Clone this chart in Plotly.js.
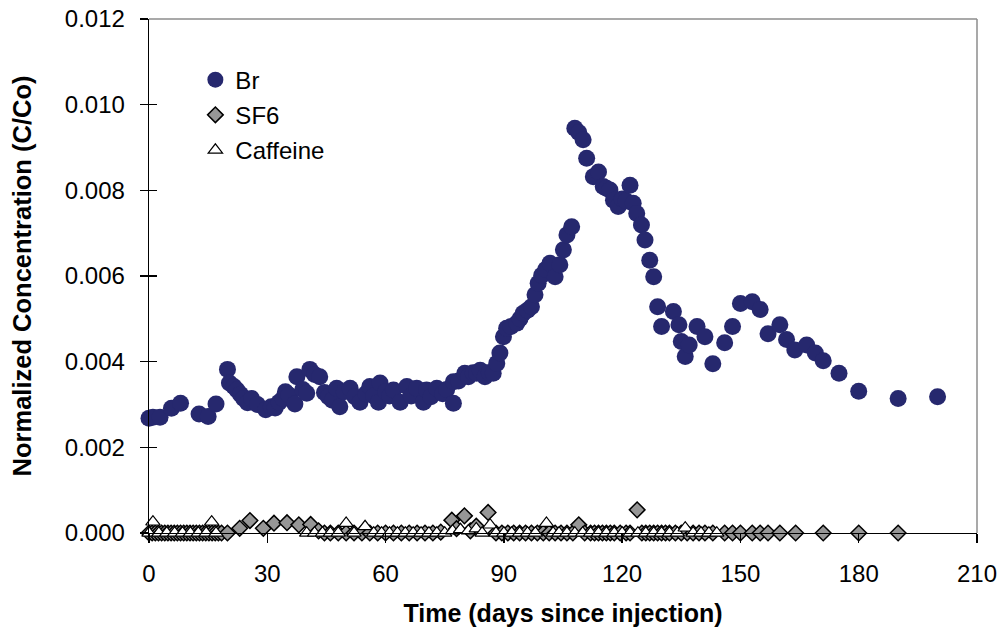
<!DOCTYPE html>
<html>
<head>
<meta charset="utf-8">
<script src="https://cdn.plot.ly/plotly-3.0.1.min.js"></script>
<style>html,body{margin:0;padding:0;background:#fff;}#chart{width:1003px;height:632px;}</style>
</head>
<body>
<div id="chart"></div>
<script>
// ---- Data ----
const brDays = [0.0,1.0,2.8,5.7,8.0,12.7,15.0,17.0,19.9,20.4,21.5,22.3,23.2,24.0,25.0,26.0,27.5,29.6,31.0,32.0,33.0,34.0,34.6,35.5,37.0,37.5,39.0,40.0,40.8,42.0,43.3,44.5,45.5,46.5,47.6,48.4,49.5,51.0,52.2,53.5,55.0,56.0,57.0,58.2,58.6,60.0,61.0,62.0,63.7,65.4,66.5,67.9,69.6,70.4,71.5,73.0,74.5,75.5,77.2,77.2,78.5,80.1,81.0,82.2,83.1,84.0,85.2,86.3,87.3,88.2,89.0,89.9,90.7,91.8,93.3,94.1,94.9,96.0,97.0,97.9,98.7,99.6,100.6,101.7,103.0,104.2,105.1,106.0,107.2,108.0,109.0,110.1,111.0,112.7,114.0,115.2,116.0,116.9,117.8,119.0,120.0,121.0,122.0,122.8,123.7,124.9,125.8,127.0,128.0,129.0,130.0,133.0,134.4,135.0,136.0,137.0,139.0,141.0,143.0,146.0,148.0,150.0,153.0,155.0,157.0,160.0,161.7,163.8,166.8,169.0,171.0,175.0,180.0,190.0,200.0];
const brValues = [0.00268,0.00270,0.00270,0.00291,0.00303,0.00278,0.00272,0.00301,0.00382,0.00350,0.00342,0.00334,0.00324,0.00314,0.00304,0.00314,0.00300,0.00288,0.00295,0.00292,0.00305,0.00314,0.00330,0.00322,0.00301,0.00365,0.00335,0.00326,0.00382,0.00370,0.00365,0.00328,0.00318,0.00310,0.00338,0.00295,0.00330,0.00338,0.00318,0.00305,0.00325,0.00342,0.00320,0.00305,0.00350,0.00330,0.00320,0.00334,0.00305,0.00342,0.00320,0.00338,0.00305,0.00334,0.00318,0.00338,0.00325,0.00335,0.00303,0.00353,0.00355,0.00373,0.00365,0.00374,0.00373,0.00380,0.00365,0.00375,0.00373,0.00396,0.00420,0.00458,0.00478,0.00482,0.00490,0.00500,0.00513,0.00520,0.00528,0.00556,0.00583,0.00602,0.00615,0.00630,0.00598,0.00626,0.00661,0.00696,0.00715,0.00945,0.00935,0.00918,0.00875,0.00832,0.00843,0.00809,0.00805,0.00801,0.00777,0.00762,0.00780,0.00775,0.00812,0.00770,0.00746,0.00719,0.00684,0.00637,0.00598,0.00528,0.00482,0.00517,0.00486,0.00447,0.00412,0.00439,0.00482,0.00458,0.00395,0.00444,0.00482,0.00536,0.00540,0.00522,0.00465,0.00486,0.00452,0.00427,0.00439,0.00420,0.00402,0.00373,0.00331,0.00314,0.00318];

const sf6Days = [0.0,0.8,1.6,2.4,3.2,4.0,4.8,5.6,6.4,7.2,8.0,8.8,9.6,10.4,11.2,12.0,12.8,13.6,14.4,15.2,16.0,16.8,17.6,18.4,19.9,23.0,25.6,29.0,31.7,35.0,38.0,41.0,43.0,44.5,46.0,48.0,50.0,52.0,54.0,56.0,58.0,60.0,62.0,64.0,66.0,68.0,70.0,72.0,74.0,76.8,78.0,80.0,81.5,83.0,86.0,88.0,89.5,91.0,92.5,94.0,95.5,97.0,98.5,100.0,101.5,103.0,104.5,106.0,107.5,109.0,110.5,112.0,113.0,114.0,115.0,116.0,117.0,118.0,119.5,121.0,122.0,123.8,125.0,126.0,127.0,128.0,129.0,130.0,131.0,132.0,133.5,135.0,136.5,138.0,139.5,141.0,143.0,146.0,148.0,150.0,153.0,155.0,157.0,160.0,164.0,171.0,180.0,190.0];
const sf6Values = [0,0,0,0,0,0,0,0,0,0,0,0,0,0,0,0,0,0,0,0,0,0,0,0,0,0.00011,0.00029,0.00011,0.00023,0.00024,0.00019,0.00020,0.00005,0,0,0,0,0,0,0,0,0,0,0,0,0,0,0,0.00002,0.00030,0.00010,0.00040,0.00005,0.00016,0.00048,0,0,0,0,0,0,0,0,0,0,0,0,0,0,0.00019,0,0,0,0,0,0,0,0,0,0,0,0.00054,0,0,0,0,0,0,0,0,0,0,0,0,0,0,0,0,0,0,0,0,0,0,0,0,0,0,0];

const cafDays = [0.0,1.0,2.5,4.5,6.5,8.5,10.5,12.5,14.5,15.9,17.0,40.0,42.0,44.0,46.0,48.0,50.0,52.0,54.8,57.0,59.0,61.0,63.0,65.0,67.0,69.0,71.0,73.0,75.0,77.0,79.0,81.0,83.0,84.5,86.5,88.0,90.0,92.0,94.0,96.0,98.0,100.8,102.5,104.0,106.0,108.0,110.0,112.0,114.0,116.0,118.0,120.0,122.0,124.0,126.0,128.0,130.0,132.0,134.0,136.0,138.0,140.0,142.0,144.0];
const cafValues = [0,0.00026,0,0,0,0,0,0,0,0.00026,0,0,0,0,0,0,0.00023,0,0.00015,0,0,0,0,0,0,0,0,0,0,0.00005,0.00008,0.00005,0.00010,0,0.00019,0,0,0,0,0,0,0.00023,0,0,0,0,0,0,0,0,0,0,0,0,0,0,0,0,0,0.00012,0,0,0,0];

const xTicks = [0,30,60,90,120,150,180,210];
const yTicks = [0,0.002,0.004,0.006,0.008,0.010,0.012];
const yTickLabels = ['0.000','0.002','0.004','0.006','0.008','0.010','0.012'];

const FONT = 'Liberation Sans, Arial, sans-serif';

const traces = [
  {x: brDays, y: brValues, name: 'Br', type: 'scatter', mode: 'markers', cliponaxis: false, legendgroup: 'a',
   marker: {symbol: 'circle', size: 17, color: '#26286e', line: {width: 0}}},
  {x: sf6Days, y: sf6Values, name: 'SF6', type: 'scatter', mode: 'markers', cliponaxis: false, legendgroup: 'b',
   marker: {symbol: 'diamond', size: 12, color: '#969696', line: {width: 1.5, color: '#000'}}},
  {x: cafDays, y: cafValues, name: 'Caffeine', type: 'scatter', mode: 'markers', cliponaxis: false, legendgroup: 'c',
   marker: {symbol: 'triangle-up', size: 12.5, color: '#ffffff', line: {width: 1.2, color: '#000'}}},
  // invisible helper on yaxis2 so that inner tick marks are drawn
  {x: [0], y: [0], yaxis: 'y2', type: 'scatter', mode: 'markers', showlegend: false, hoverinfo: 'skip',
   marker: {opacity: 0}}
];

const layout = {
  width: 1003, height: 632,
  margin: {l: 149, r: 26, t: 19, b: 99},
  paper_bgcolor: '#fff', plot_bgcolor: '#fff',
  font: {family: FONT, color: '#000', size: 24},
  showlegend: true,
  legend: {x: 0.056, y: 0.925, xanchor: 'left', yanchor: 'top', bgcolor: 'rgba(0,0,0,0)',
           font: {family: FONT, size: 24, color: '#000'}, tracegroupgap: 1, itemwidth: 30},
  xaxis: {range: [0, 210], tickmode: 'array', tickvals: xTicks, ticks: 'outside', ticklen: 9,
          tickcolor: '#000', tickwidth: 1.3, showline: true, linecolor: '#000', linewidth: 1.3,
          showgrid: false, zeroline: false, ticklabelstandoff: 10,
          tickfont: {family: FONT, size: 24, color: '#000'},
          title: {text: '<b>Time (days since injection)</b>', font: {family: FONT, size: 25, color: '#000'}, standoff: 18}},
  yaxis: {range: [0, 0.012], tickmode: 'array', tickvals: yTicks, ticktext: yTickLabels, ticks: 'outside', ticklen: 8,
          tickcolor: '#000', tickwidth: 1.3, showline: true, linecolor: '#000', linewidth: 1.3,
          showgrid: false, zeroline: false, ticklabelstandoff: 10,
          tickfont: {family: FONT, size: 24, color: '#000'},
          title: {text: '<b>Normalized Concentration (C/Co)</b>', font: {family: FONT, size: 25.5, color: '#000'}, standoff: 26}},
  yaxis2: {overlaying: 'y', side: 'left', range: [0, 0.012], tickmode: 'array', tickvals: yTicks,
           ticks: 'inside', ticklen: 8, tickcolor: '#000', tickwidth: 1.3, showticklabels: false,
           showline: false, showgrid: false, zeroline: false},
  shapes: [
    {type: 'line', xref: 'paper', yref: 'paper', x0: 0, x1: 1, y0: 1, y1: 1, line: {color: '#8c8c8c', width: 1.5}},
    {type: 'line', xref: 'paper', yref: 'paper', x0: 1, x1: 1, y0: 0, y1: 1, line: {color: '#8c8c8c', width: 1.5}}
  ]
};

Plotly.newPlot('chart', traces, layout, {displayModeBar: false, staticPlot: true});
</script>
</body>
</html>
